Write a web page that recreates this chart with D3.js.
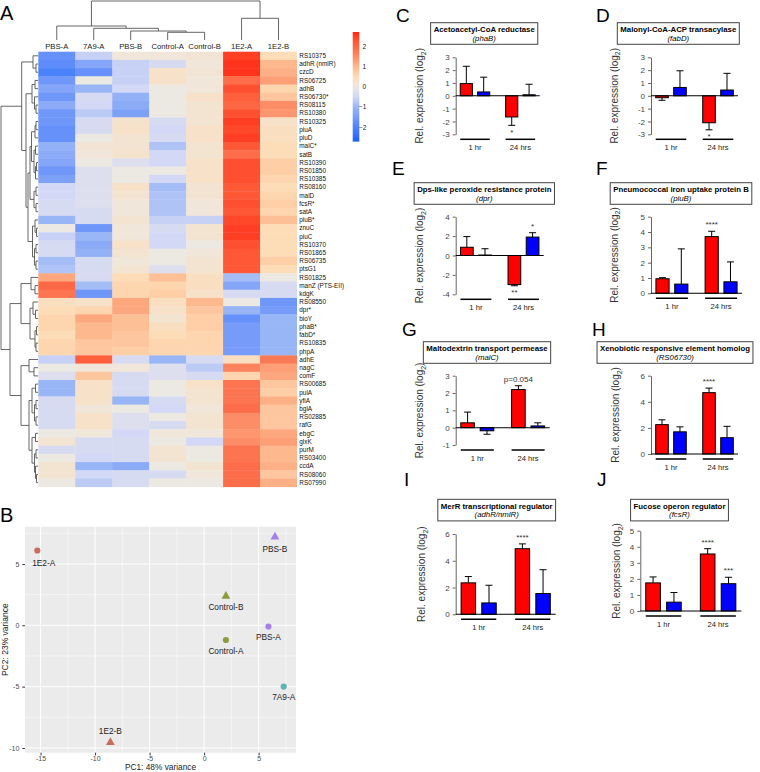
<!DOCTYPE html>
<html>
<head>
<meta charset="utf-8">
<script src="https://cdn.jsdelivr.net/npm/d3@7"></script>
<style>
  body { margin: 0; background: #fff; }
  svg { font-family: "Liberation Sans", Arial, sans-serif; }
</style>
</head>
<body>
<svg id="fig" width="760" height="772"></svg>
<script>
// ---------- data: panel A heatmap ----------
const samples = ["PBS-A", "7A9-A", "PBS-B", "Control-A", "Control-B", "1E2-A", "1E2-B"];
const genes = ["RS10375", "adhR (nmlR)", "czcD", "RS06725", "adhB", "RS06730*", "RS08115", "RS10380",
  "RS10325", "piuA", "piuD", "malC*", "satB", "RS10390", "RS01850", "RS10385", "RS08160", "malD",
  "fcsR*", "satA", "piuB*", "znuC", "piuC", "RS10370", "RS01865", "RS06735", "ptsG1", "RS01825",
  "manZ (PTS-EII)", "kdgK", "RS08550", "dpr*", "bioY", "phaB*", "fabD*", "RS10835", "phpA", "adhE",
  "nagC", "comF", "RS00685", "pulA", "yfiA", "bglA", "RS02885", "rafG", "ebgC", "glxK", "purM",
  "RS03400", "ccdA", "RS08060", "RS07990"];
// one row per gene, columns in the order of `samples`
const expr = [
  [-1.7, -0.6, 0.1, 0.1, 0.15, 2.5, 0.5],
  [-1.8, -1.3, -0.6, -0.4, 0.1, 2.6, 1.0],
  [-2.0, -1.7, -0.6, 0.3, 0.15, 2.6, 1.1],
  [-1.6, 0.0, -0.6, 0.3, 0.1, 1.9, 1.3],
  [-1.3, -1.0, -0.5, 0.0, 0.1, 2.3, 0.6],
  [-1.6, -0.4, -1.1, 0.0, 0.3, 2.1, 0.8],
  [-1.2, -0.5, -1.2, 0.0, 0.2, 2.0, 1.5],
  [-1.6, -0.7, -1.4, 0.0, 0.2, 2.3, 1.4],
  [-1.6, -0.4, 0.25, -0.4, 0.2, 2.5, 0.3],
  [-1.7, -0.4, 0.3, -0.5, 0.3, 2.4, 0.4],
  [-1.7, 0.0, 0.2, -0.4, 0.3, 2.5, 0.4],
  [-1.1, 0.15, 0.2, -0.8, 0.2, 2.2, 0.5],
  [-1.2, 0.1, 0.25, -0.5, 0.2, 1.9, 0.5],
  [-1.3, 0.0, -0.3, -0.5, 0.3, 2.3, 0.7],
  [-1.6, -0.3, 0.0, 0.0, 0.3, 2.3, 0.7],
  [-1.4, -0.3, 0.0, -0.5, 0.3, 2.3, 0.6],
  [-0.5, -0.3, 0.3, -0.9, 0.2, 2.2, 0.5],
  [-0.5, -0.3, 0.2, -0.8, 0.2, 2.2, 0.6],
  [-0.4, -0.3, 0.1, -0.8, 0.1, 2.3, 0.7],
  [-0.4, -0.4, 0.1, -0.8, 0.1, 2.2, 0.6],
  [-1.0, -0.4, 0.2, -0.6, -0.6, 2.4, 0.9],
  [0.0, -1.6, 0.1, -0.4, 0.2, 2.5, 0.5],
  [-0.6, -1.0, 0.1, -0.5, 0.2, 2.5, 0.5],
  [-0.4, -1.2, 0.3, -0.5, 0.0, 2.3, 0.5],
  [-0.4, -1.1, 0.2, 0.0, 0.1, 2.2, 0.5],
  [-0.9, -0.4, 0.1, 0.0, 0.2, 2.2, 0.7],
  [-0.8, -0.4, 0.2, -0.3, 0.2, 2.2, 0.5],
  [1.2, -0.4, 0.5, 0.9, 0.4, -0.9, 0.0],
  [2.0, -0.9, 0.6, 0.6, 0.4, -1.3, -0.4],
  [1.8, -1.6, 0.6, 0.7, 0.3, -0.4, -0.4],
  [0.4, 0.3, 1.2, 0.4, 1.0, 0.0, -1.6],
  [0.5, 0.6, 1.2, 0.3, 0.8, -1.0, -1.5],
  [0.6, 1.2, 0.9, 0.2, 0.7, -1.7, -1.0],
  [0.6, 1.0, 0.9, 0.4, 0.7, -1.5, -1.0],
  [0.5, 1.0, 0.8, 0.5, 0.6, -1.5, -1.0],
  [0.6, 0.8, 0.8, 0.6, 0.6, -1.5, -1.0],
  [0.6, 0.8, 0.7, 0.6, 0.6, -1.5, -1.0],
  [-0.6, 2.1, -0.4, -1.0, -0.4, 0.4, 1.7],
  [0.0, 0.1, 0.1, -0.3, -0.7, 1.6, 1.3],
  [-0.3, 0.8, -0.4, -0.3, -0.4, 0.6, 1.2],
  [-1.0, 0.3, -0.4, 0.0, 0.3, 1.8, 0.8],
  [-1.0, 0.3, -0.4, 0.0, 0.2, 1.8, 0.7],
  [-0.4, 0.3, -1.0, -0.4, 0.2, 1.8, 1.1],
  [-0.4, 0.1, 0.0, -0.5, 0.1, 1.9, 0.8],
  [-0.4, 0.3, -0.3, 0.0, 0.2, 1.5, 0.8],
  [-0.4, 0.3, -0.3, -0.4, 0.2, 1.5, 0.8],
  [0.0, 0.1, -0.5, 0.1, 0.1, 1.4, 1.2],
  [0.2, -0.4, -0.4, 0.0, -0.5, 1.5, 1.3],
  [-0.4, -0.4, -0.4, 0.2, 0.0, 1.8, 1.0],
  [0.0, -0.5, -0.4, 0.2, 0.0, 1.8, 1.0],
  [0.2, -1.0, -1.2, 0.0, 0.2, 1.9, 1.1],
  [0.2, -0.5, -0.4, -0.4, 0.1, 1.9, 0.8],
  [0.0, -0.7, -0.4, 0.0, 0.0, 1.9, 1.1]
];
const legendTicks = [2, 1, 0, -1, -2];
// dendrograms: [left, right, mergeHeight]; leaves are sample names / gene indices
const colTree = [["PBS-A", ["7A9-A", ["PBS-B", ["Control-A", "Control-B", 7.7], 9], 11.7], 14],
  ["1E2-A", "1E2-B", 21.7], 39];
const rowTree = [
  [[0, [1, 2, 2], 5],
   [[[3, 4, 3], [5, [6, 7, 2], 3.5], 6],
    [[[[[8, 9, 2], 10, 3], [[11, 12, 2.5], [[13, 14, 1.5], 15, 2.5], 4], 6.5],
      [[16, 17, 2], [18, 19, 2], 4], 8],
     [[20, [21, 22, 1.5], 3], [[23, 24, 2], [25, 26, 2], 3.5], 5.5], 10], 12], 16.3],
  [[[27, [28, 29, 3], 7], [[30, [31, 32, 2.5], 5], [[33, 34, 1.5], [35, 36, 2], 3], 8], 17],
   [[37, [38, 39, 4], 9],
    [[[40, 41, 2.5], [[42, 43, 2], [44, 45, 2], 3.5], 6],
     [[46, 47, 2.5], [[48, 49, 2], [50, [51, 52, 1.5], 2.5], 3.5], 6], 9], 17], 28], 37];

// ---------- data: panel B PCA ----------
const pcaSamples = ["1E2-A", "PBS-B", "Control-B", "PBS-A", "Control-A", "7A9-A", "1E2-B"];
const pc1 = [-15.3, 6.5, 2.0, 5.9, 2.0, 7.3, -8.6];
const pc2 = [6.1, 7.2, 2.37, -0.1, -1.2, -5.0, -9.55];
const pcaGroups = ["1E2", "7A9", "Control", "PBS"];

// ---------- data: panels C-J ----------
const panelIds = ["C", "D", "E", "F", "G", "H", "I", "J"];
const panelTitles = ["Acetoacetyl-CoA reductase", "Malonyl-CoA-ACP transacylase",
  "Dps-like peroxide resistance protein", "Pneumococcal iron uptake protein B",
  "Maltodextrin transport permease", "Xenobiotic responsive element homolog",
  "MerR transcriptional regulator", "Fucose operon regulator"];
const panelGenes = ["phaB", "fabD", "dpr", "piuB", "malC", "RS06730", "adhR/nmlR", "fcsR"];
const timeGroups = ["1 hr", "24 hrs"];
const seriesNames = ["seriesA", "seriesB"];
// order: 1 hr seriesA, 1 hr seriesB, 24 hrs seriesA, 24 hrs seriesB
const barMeans = [
  [0.95, 0.3, -1.65, 0.08],
  [-0.15, 0.65, -2.1, 0.45],
  [0.85, 0.05, -3.0, 1.9],
  [0.95, 0.6, 3.7, 0.75],
  [0.28, -0.18, 2.2, 0.1],
  [2.25, 1.7, 4.7, 1.25],
  [2.35, 0.85, 4.9, 1.55],
  [1.75, 0.55, 3.55, 1.7]
];
const barErrs = [
  [1.35, 1.15, 0.65, 0.82],
  [0.2, 1.3, 0.55, 1.3],
  [1.1, 0.65, 0.12, 0.45],
  [0.07, 2.3, 0.35, 1.3],
  [0.62, 0.2, 0.22, 0.18],
  [0.37, 0.38, 0.35, 0.87],
  [0.47, 1.32, 0.36, 1.78],
  [0.37, 0.6, 0.33, 0.4]
];
const barSig = [
  ["", "", "*", ""], ["", "", "*", ""], ["", "", "**", "*"], ["", "", "****", ""],
  ["", "", "p=0.054", ""], ["", "", "****", ""], ["", "", "****", ""], ["", "", "****", "***"]
];
const yDomains = [[-3, 3], [-3, 3], [-4, 4], [0, 5], [-1, 3], [0, 6], [0, 6], [0, 5]];
const yTickVals = [[-3, -2, -1, 0, 1, 2, 3], [-3, -2, -1, 0, 1, 2, 3], [-4, -2, 0, 2, 4],
  [0, 1, 2, 3, 4, 5], [-1, 0, 1, 2, 3], [0, 2, 4, 6], [0, 2, 4, 6], [0, 1, 2, 3, 4, 5]];

// ---------- layout ----------
const svg = d3.select("#fig");
const lineCol = "#555";

const heatColor = d3.scaleLinear()
  .domain([-2.7, -2, -1, -0.5, 0, 0.5, 1, 1.7, 2.7])
  .range(["#1a5fff", "#4a82fb", "#98b6f6", "#d2d8f6", "#ece8e2", "#fddcb8", "#fdb88e", "#fb7a56", "#ff2414"])
  .interpolate(d3.interpolateLab)
  .clamp(true);

// ===== Panel A =====
const hm = { x0: 38.3, x1: 297, y0: 51.7, y1: 486.7 };
const xCol = d3.scaleBand().domain(samples).range([hm.x0, hm.x1]);
const yRow = d3.scaleBand().domain(d3.range(genes.length)).range([hm.y0, hm.y1]);

svg.append("text").attr("x", 0).attr("y", 20).attr("font-size", 20).text("A");

svg.append("g").selectAll("g").data(expr).join("g")
  .attr("transform", (r, i) => `translate(0,${yRow(i)})`)
  .selectAll("rect").data(r => r).join("rect")
  .attr("x", (v, j) => xCol(samples[j]))
  .attr("width", (v, j) => xCol.bandwidth() + (j < samples.length - 1 ? 0.5 : 0))
  .attr("height", yRow.bandwidth() + 0.4)
  .attr("fill", v => heatColor(v));

svg.append("g").selectAll("text").data(genes).join("text")
  .attr("x", hm.x1 + 2.3)
  .attr("y", (g, i) => yRow(i) + yRow.bandwidth() / 2)
  .attr("dy", "0.35em")
  .attr("font-size", 6.4)
  .attr("fill", "#111")
  .text(d => d);

svg.append("g").selectAll("text").data(samples).join("text")
  .attr("x", d => xCol(d) + xCol.bandwidth() / 2)
  .attr("y", 48.7)
  .attr("text-anchor", "middle")
  .attr("font-size", 7.7)
  .attr("fill", "#222")
  .text(d => d);

function drawTree(g, node, pos, hs, vertical) {
  if (!Array.isArray(node)) return { p: pos(node), h: 0 };
  const [a, b, h] = node;
  const A = drawTree(g, a, pos, hs, vertical);
  const B = drawTree(g, b, pos, hs, vertical);
  [[A.p, A.h, A.p, h], [B.p, B.h, B.p, h], [A.p, h, B.p, h]].forEach(([p1, h1, p2, h2]) => {
    const c = vertical ? [p1, hs(h1), p2, hs(h2)] : [hs(h1), p1, hs(h2), p2];
    g.append("line").attr("x1", c[0]).attr("y1", c[1]).attr("x2", c[2]).attr("y2", c[3]);
  });
  return { p: (A.p + B.p) / 2, h };
}

const colDend = svg.append("g").attr("stroke", lineCol).attr("stroke-width", 0.9);
drawTree(colDend, colTree, d => xCol(d) + xCol.bandwidth() / 2,
  d3.scaleLinear().domain([0, 39]).range([40, 1]), true);
const rowDend = svg.append("g").attr("stroke", lineCol).attr("stroke-width", 0.9);
drawTree(rowDend, rowTree, d => yRow(d) + yRow.bandwidth() / 2,
  d3.scaleLinear().domain([0, 37]).range([38, 1]), false);

// colour legend
const cb = d3.scaleLinear().domain([-2.7, 2.7]).range([141.6, 32]);
const grad = svg.append("defs").append("linearGradient").attr("id", "cbar")
  .attr("x1", 0).attr("y1", 1).attr("x2", 0).attr("y2", 0);
d3.range(0, 1.0001, 0.04).forEach(t => {
  grad.append("stop").attr("offset", t).attr("stop-color", heatColor(-2.7 + 5.4 * t));
});
svg.append("rect").attr("x", 352.7).attr("y", cb(2.7)).attr("width", 6.6)
  .attr("height", cb(-2.7) - cb(2.7)).attr("fill", "url(#cbar)");
svg.append("g").selectAll("text").data(legendTicks).join("text")
  .attr("x", d => d < 0 ? 362.7 : 364.3)
  .attr("y", d => cb(d)).attr("dy", "0.35em")
  .attr("text-anchor", "middle").attr("font-size", 6.6).attr("fill", "#222")
  .text(d => d < 0 ? "\u2212" + Math.abs(d) : d);

// ===== Panel B =====
const pca = { x0: 25, x1: 296, y0: 526.7, y1: 752.7 };
const expand = e => { const s = e[1] - e[0]; return [e[0] - 0.05 * s, e[1] + 0.05 * s]; };
const px = d3.scaleLinear().domain(expand(d3.extent(pc1))).range([pca.x0, pca.x1]);
const py = d3.scaleLinear().domain(expand(d3.extent(pc2))).range([pca.y1, pca.y0]);
const groupColor = d3.scaleOrdinal().domain(pcaGroups).range(["#c96c5e", "#5db3b6", "#8c9b3e", "#a67fec"]);
const labelOffset = [[6.4, 12.3], [0, 12.3], [0, 10.7], [0, 10.4], [0, 10.7], [0, 10], [0, -11.3]];

svg.append("text").attr("x", 0).attr("y", 522).attr("font-size", 20).text("B");
svg.append("rect").attr("x", pca.x0).attr("y", pca.y0)
  .attr("width", pca.x1 - pca.x0).attr("height", pca.y1 - pca.y0).attr("fill", "#ebebeb");

const xMaj = px.ticks(5), yMaj = py.ticks(5);
const minorOf = (maj, sc) => {
  const st = maj[1] - maj[0], d = sc.domain();
  return d3.range(maj[0] - st / 2, maj[maj.length - 1] + st, st).filter(v => v > d[0] && v < d[1]);
};
const grid = svg.append("g").attr("stroke", "#fff");
grid.selectAll(".vx").data(minorOf(xMaj, px)).join("line").attr("stroke-width", 0.5)
  .attr("x1", px).attr("x2", px).attr("y1", pca.y0).attr("y2", pca.y1);
grid.selectAll(".hy").data(minorOf(yMaj, py)).join("line").attr("stroke-width", 0.5)
  .attr("y1", py).attr("y2", py).attr("x1", pca.x0).attr("x2", pca.x1);
grid.selectAll(".mx").data(xMaj).join("line").attr("stroke-width", 1)
  .attr("x1", px).attr("x2", px).attr("y1", pca.y0).attr("y2", pca.y1);
grid.selectAll(".my").data(yMaj).join("line").attr("stroke-width", 1)
  .attr("y1", py).attr("y2", py).attr("x1", pca.x0).attr("x2", pca.x1);

const axB = svg.append("g").attr("transform", `translate(0,${pca.y1})`)
  .call(d3.axisBottom(px).tickValues(xMaj).tickSize(2.7).tickSizeOuter(0).tickFormat(d => String(d)));
const axL = svg.append("g").attr("transform", `translate(${pca.x0},0)`)
  .call(d3.axisLeft(py).tickValues(yMaj).tickSize(2.7).tickSizeOuter(0).tickFormat(d => String(d)));
[axB, axL].forEach(a => {
  a.select(".domain").remove();
  a.selectAll("line").attr("stroke", "#333");
  a.selectAll("text").attr("font-size", 7).attr("fill", "#4d4d4d").attr("font-family", null);
});
axB.selectAll("text").attr("y", 3.6);
svg.append("text").attr("x", (pca.x0 + pca.x1) / 2).attr("y", 769.5).attr("text-anchor", "middle")
  .attr("font-size", 8.3).attr("fill", "#222").text("PC1: 48% variance");
svg.append("text").attr("transform", `translate(8,${(pca.y0 + pca.y1) / 2}) rotate(-90)`)
  .attr("text-anchor", "middle").attr("font-size", 8.5).attr("fill", "#222").text("PC2: 23% variance");

const sym = d3.symbol();
svg.append("g").selectAll("path").data(pcaSamples).join("path")
  .attr("transform", (d, i) => `translate(${px(pc1[i])},${py(pc2[i])})`)
  .attr("d", d => d.endsWith("-B") ? sym.type(d3.symbolTriangle).size(34)() : sym.type(d3.symbolCircle).size(30)())
  .attr("fill", d => groupColor(d.slice(0, d.lastIndexOf("-"))));
svg.append("g").selectAll("text").data(pcaSamples).join("text")
  .attr("x", (d, i) => px(pc1[i]) + labelOffset[i][0])
  .attr("y", (d, i) => py(pc2[i]) + labelOffset[i][1])
  .attr("dy", "0.35em").attr("text-anchor", "middle")
  .attr("font-size", 8.3).attr("fill", "#222").text(d => d);

// ===== Panels C-J =====
const panelLayout = [
  { x: 455.7, w: 84, top: 57.3, bot: 134.3, tcx: 484.2, tTop: 22.7, lx: 396, ly: 22, ylx: 423.2 },
  { x: 651, w: 87, top: 57.3, bot: 134.3, tcx: 678.3, tTop: 22.7, lx: 596, ly: 22, ylx: 617.7 },
  { x: 455.7, w: 88, top: 216.7, bot: 294.3, tcx: 484.3, tTop: 182.7, lx: 392, ly: 175, ylx: 423.3 },
  { x: 651, w: 91, top: 216.7, bot: 293.3, tcx: 681, tTop: 182.7, lx: 596, ly: 175, ylx: 617.7 },
  { x: 455.7, w: 94, top: 375.7, bot: 445, tcx: 487, tTop: 341.7, lx: 402, ly: 336, ylx: 423.3 },
  { x: 651, w: 87, top: 375.7, bot: 454, tcx: 675, tTop: 341.7, lx: 592, ly: 336, ylx: 619 },
  { x: 455.7, w: 100, top: 534, bot: 614.3, tcx: 496.7, tTop: 499.3, lx: 404, ly: 486, ylx: 425 },
  { x: 640.3, w: 101, top: 530.7, bot: 611, tcx: 679.5, tTop: 499.3, lx: 597, ly: 486, ylx: 620 }
];
const seriesColor = d3.scaleOrdinal().domain(seriesNames).range(["#ff0000", "#0000ff"]);

panelIds.forEach((id, k) => {
  const L = panelLayout[k];
  const g = svg.append("g");
  g.append("text").attr("x", L.lx).attr("y", L.ly).attr("font-size", 19).text(id);

  // title box
  const tb = g.append("g");
  const t1 = tb.append("text").attr("x", L.tcx).attr("y", L.tTop + 9.5).attr("text-anchor", "middle")
    .attr("font-size", 7.8).attr("font-weight", "bold").text(panelTitles[k]);
  tb.append("text").attr("x", L.tcx).attr("y", L.tTop + 18).attr("text-anchor", "middle")
    .attr("font-size", 7.8).attr("font-style", "italic").text(`(${panelGenes[k]})`);
  const tw = t1.node().getComputedTextLength() + 6;
  tb.insert("rect", "text").attr("x", L.tcx - tw / 2).attr("y", L.tTop).attr("width", tw).attr("height", 21.6)
    .attr("fill", "#fff").attr("stroke", "#444").attr("stroke-width", 1);

  const y = d3.scaleLinear().domain(yDomains[k]).range([L.bot, L.top]);
  const xg = d3.scaleBand().domain(timeGroups).range([L.x, L.x + L.w]).paddingInner(0.35).paddingOuter(0.1);
  const xs = d3.scaleBand().domain(seriesNames).range([0, xg.bandwidth()]).paddingInner(0.3);

  const ax = g.append("g").attr("transform", `translate(${L.x},0)`)
    .call(d3.axisLeft(y).tickValues(yTickVals[k]).tickSize(3).tickSizeOuter(0).tickFormat(d => String(d)));
  ax.select(".domain").attr("stroke", "#666");
  ax.selectAll(".tick line").attr("stroke", "#666");
  ax.selectAll("text").attr("font-size", 8).attr("fill", "#444").attr("font-family", null);

  g.append("text").attr("transform", `translate(${L.ylx},${(L.top + L.bot) / 2}) rotate(-90)`)
    .attr("text-anchor", "middle").attr("font-size", 10).attr("fill", "#333")
    .call(t => {
      t.append("tspan").text("Rel. expression (log");
      t.append("tspan").attr("font-size", 7).attr("dy", 2.5).text("2");
      t.append("tspan").attr("dy", -2.5).text(")");
    });

  const bars = barMeans[k].map((v, i) => ({
    v, e: barErrs[k][i], sig: barSig[k][i],
    grp: timeGroups[Math.floor(i / 2)], ser: seriesNames[i % 2]
  }));
  bars.forEach(b => {
    const bx = xg(b.grp) + xs(b.ser), bw = xs.bandwidth(), cx = bx + bw / 2;
    const end = b.v >= 0 ? b.v + b.e : b.v - b.e;
    g.append("line").attr("x1", cx).attr("x2", cx).attr("y1", y(b.v)).attr("y2", y(end))
      .attr("stroke", "#000").attr("stroke-width", 1);
    g.append("line").attr("x1", cx - 3.5).attr("x2", cx + 3.5).attr("y1", y(end)).attr("y2", y(end))
      .attr("stroke", "#000").attr("stroke-width", 1);
    g.append("rect").attr("x", bx).attr("width", bw)
      .attr("y", Math.min(y(b.v), y(0))).attr("height", Math.abs(y(b.v) - y(0)))
      .attr("fill", seriesColor(b.ser)).attr("stroke", "#000").attr("stroke-width", 1);
    if (b.sig) {
      g.append("text").attr("x", cx).attr("y", b.v >= 0 ? y(end) - 4 : y(end) + 9.4)
        .attr("text-anchor", "middle").attr("font-size", 8).attr("fill", "#333").text(b.sig);
    }
  });

  g.append("line").attr("x1", L.x).attr("x2", L.x + L.w).attr("y1", y(0)).attr("y2", y(0))
    .attr("stroke", "#000").attr("stroke-width", 1.1);

  timeGroups.forEach(t => {
    const uy = L.bot + 5;
    g.append("line").attr("x1", xg(t)).attr("x2", xg(t) + xg.bandwidth()).attr("y1", uy).attr("y2", uy)
      .attr("stroke", "#000").attr("stroke-width", 1.5);
    g.append("text").attr("x", xg(t) + xg.bandwidth() / 2).attr("y", uy + 11)
      .attr("text-anchor", "middle").attr("font-size", 7.6).attr("fill", "#222").text(t);
  });
});
</script>
</body>
</html>
